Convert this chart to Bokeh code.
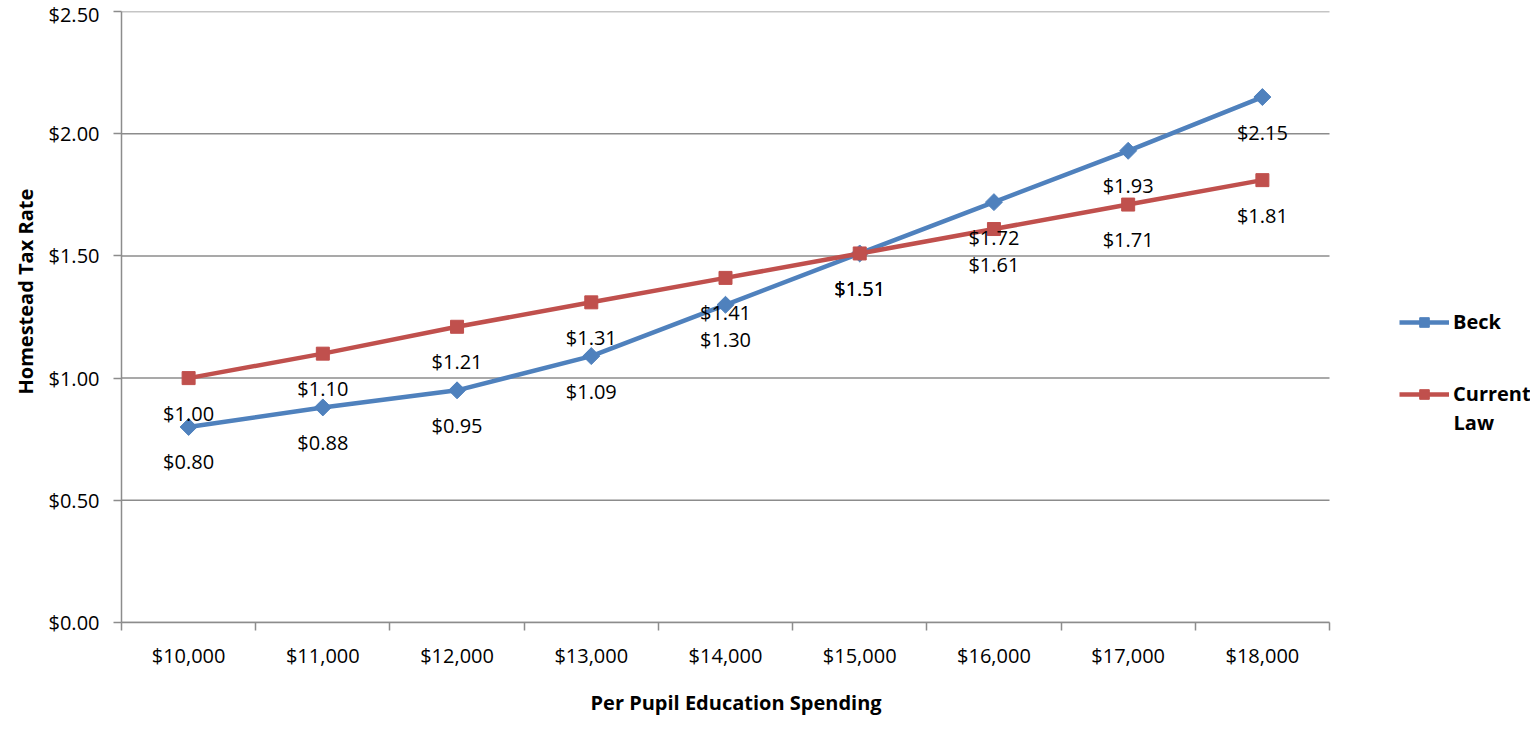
import math
from bokeh.plotting import figure
from bokeh.models import (ColumnDataSource, LabelSet, Label, Legend, LegendItem, FixedTicker,
                          NumeralTickFormatter, Range1d, Title)
from bokeh.core.properties import value
from bokeh.embed import file_html
from bokeh.resources import INLINE

categories = ["$10,000", "$11,000", "$12,000", "$13,000", "$14,000",
              "$15,000", "$16,000", "$17,000", "$18,000"]
beck = [0.80, 0.88, 0.95, 1.09, 1.30, 1.51, 1.72, 1.93, 2.15]
current_law = [1.00, 1.10, 1.21, 1.31, 1.41, 1.51, 1.61, 1.71, 1.81]
y_ticks = [0.0, 0.5, 1.0, 1.5, 2.0, 2.5]

FONT = "Open Sans"
BLUE = "#4F81BD"
RED = "#C0504D"
GRID = "#8C8C8C"

W, H = 1530, 731
LEFT, TOP, BOTTOM = 121, 11, 108
n = len(categories)
frame_w = W - LEFT
plot_w = 1208  # width used by the categories (legend lives to its right)
x_end = -0.5 + n * frame_w / plot_w

xs = list(range(n))
src_b = ColumnDataSource(dict(x=xs, y=beck, lab=[f"${v:.2f}" for v in beck]))
src_c = ColumnDataSource(dict(x=xs, y=current_law, lab=[f"${v:.2f}" for v in current_law]))
src_g = ColumnDataSource(dict(x0=[-0.5] * len(y_ticks), x1=[n - 0.5] * len(y_ticks),
                              y=y_ticks))

p = figure(width=W, height=H, output_backend="svg", toolbar_location=None,
           x_range=Range1d(-0.5, x_end), y_range=Range1d(0, 2.5),
           min_border_left=LEFT, min_border_right=0, min_border_top=TOP,
           min_border_bottom=BOTTOM)
p.outline_line_color = None
p.background_fill_color = "white"
p.xgrid.grid_line_color = None
p.ygrid.grid_line_color = None

# horizontal gridlines over the category span
p.segment(x0="x0", y0="y", x1="x1", y1="y", source=src_g,
          line_color=GRID, line_width=1.5)

# y axis
p.yaxis.ticker = FixedTicker(ticks=y_ticks)
p.yaxis.formatter = NumeralTickFormatter(format="$0.00")
p.yaxis.axis_line_color = GRID
p.yaxis.axis_line_width = 1.5
p.yaxis.major_tick_line_color = GRID
p.yaxis.major_tick_line_width = 1.5
p.yaxis.major_tick_out = 8
p.yaxis.major_tick_in = 0
p.yaxis.minor_tick_line_color = None
p.yaxis.major_label_text_font = FONT
p.yaxis.major_label_text_font_size = "20px"
p.yaxis.major_label_text_color = "black"
p.yaxis.major_label_standoff = 14

# x axis
p.xaxis.bounds = (-0.5, n - 0.5)
p.xaxis.ticker = FixedTicker(ticks=xs, minor_ticks=[i - 0.5 for i in range(n + 1)])
p.xaxis.major_label_overrides = {i: c for i, c in enumerate(categories)}
p.xaxis.axis_line_color = GRID
p.xaxis.axis_line_width = 1.5
p.xaxis.major_tick_line_color = None
p.xaxis.major_tick_out = 8
p.xaxis.major_tick_in = 0
p.xaxis.minor_tick_line_color = GRID
p.xaxis.minor_tick_line_width = 1.5
p.xaxis.minor_tick_out = 8
p.xaxis.minor_tick_in = 0
p.xaxis.major_label_text_font = FONT
p.xaxis.major_label_text_font_size = "20px"
p.xaxis.major_label_text_color = "black"
p.xaxis.major_label_standoff = 11

# axis titles
p.add_layout(Title(text="Per Pupil Education Spending", align="left",
                   offset=469, standoff=31,
                   text_font=FONT, text_font_style="bold", text_font_size="20px",
                   text_color="black"), "below")
p.add_layout(Title(text="Homestead Tax Rate", align="left", offset=228, standoff=14,
                   text_font=FONT, text_font_style="bold", text_font_size="20px",
                   text_color="black"), "left")

lb = p.line("x", "y", source=src_b, line_color=BLUE, line_width=4.5)
mb = p.scatter("x", "y", source=src_b, marker="square", angle=math.pi / 4, size=12,
               fill_color=BLUE, line_color=BLUE)
lc = p.line("x", "y", source=src_c, line_color=RED, line_width=4.5)
mc = p.scatter("x", "y", source=src_c, marker="square", size=13, fill_color=RED, line_color=RED)

for s in (src_b, src_c):
    p.add_layout(LabelSet(x="x", y="y", text="lab", source=s, y_offset=-35,
                          text_align="center", text_baseline="middle",
                          text_font_size="20px", text_font=value(FONT), text_color="black"))

legend = Legend(items=[LegendItem(label="Beck", renderers=[lb, mb]),
                       LegendItem(label="Current", renderers=[lc, mc])],
                location=(1278, 215), orientation="vertical",
                glyph_width=50, glyph_height=24, label_standoff=4, spacing=45,
                padding=0, margin=0, border_line_color=None, background_fill_alpha=0,
                label_text_font=FONT, label_text_font_style="bold",
                label_text_font_size="20px", label_text_color="black")
p.add_layout(legend, "center")
p.add_layout(Label(x=1332, y=200, x_units="screen", y_units="screen",
                   text="Law", text_baseline="middle", text_align="left",
                   text_font=FONT, text_font_style="bold", text_font_size="20px",
                   text_color="black"))

open("out.html", "w").write(file_html(p, INLINE))
